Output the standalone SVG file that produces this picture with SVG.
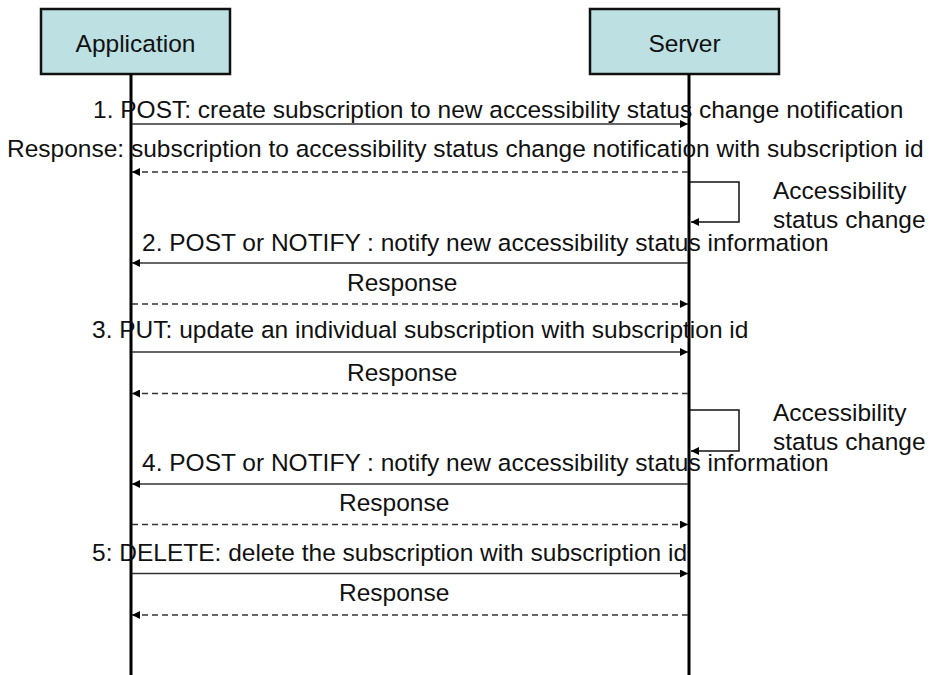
<svg xmlns="http://www.w3.org/2000/svg" width="929" height="675" viewBox="0 0 929 675">
<style>
text{font-family:"Liberation Sans",Arial,sans-serif;font-size:24.5px;fill:#111}
.box{fill:#bde0e3;stroke:#111;stroke-width:2.5}
.life{stroke:#000;stroke-width:3}
.msg{stroke:#333;stroke-width:1.5;fill:none}
.dash{stroke:#333;stroke-width:1.5;fill:none;stroke-dasharray:6 4}
.loop{stroke:#111;stroke-width:1.5;fill:none}
</style>
<defs>
<marker id="ah" viewBox="0 0 10 10" refX="10" refY="5" markerWidth="8" markerHeight="8" markerUnits="userSpaceOnUse" orient="auto">
<path d="M0,0 L10,5 L0,10 z" fill="#000"/>
</marker>
</defs>
<g id="application">
<rect class="box" x="41" y="9" width="189" height="65"/>
<line class="life" x1="131" y1="74" x2="131" y2="675"/>
<text x="135.5" y="52" text-anchor="middle">Application</text>
</g>
<g id="server">
<rect class="box" x="590" y="9" width="189" height="65"/>
<line class="life" x1="689" y1="74" x2="689" y2="675"/>
<text x="684.5" y="52" text-anchor="middle">Server</text>
</g>
<g id="connectors">
<line class="msg" x1="132" y1="124" x2="688" y2="124" marker-end="url(#ah)"/>
<line class="dash" x1="688" y1="172" x2="132" y2="172" marker-end="url(#ah)"/>
<polyline class="loop" points="690,182 739,182 739,222 691,222" marker-end="url(#ah)"/>
<line class="msg" x1="688" y1="263" x2="132" y2="263" marker-end="url(#ah)"/>
<line class="dash" x1="132" y1="304" x2="688" y2="304" marker-end="url(#ah)"/>
<line class="msg" x1="132" y1="352" x2="688" y2="352" marker-end="url(#ah)"/>
<line class="dash" x1="688" y1="393.5" x2="132" y2="393.5" marker-end="url(#ah)"/>
<polyline class="loop" points="690,410 739,410 739,451 691,451" marker-end="url(#ah)"/>
<line class="msg" x1="688" y1="484" x2="132" y2="484" marker-end="url(#ah)"/>
<line class="dash" x1="132" y1="524.5" x2="688" y2="524.5" marker-end="url(#ah)"/>
<line class="msg" x1="132" y1="573.5" x2="688" y2="573.5" marker-end="url(#ah)"/>
<line class="dash" x1="688" y1="615" x2="132" y2="615" marker-end="url(#ah)"/>
</g>
<g id="labels">
<text x="93" y="118">1. POST: create subscription to new accessibility status change notification</text>
<text x="7" y="157">Response: subscription to accessibility status change notification with subscription id</text>
<text x="773" y="199">Accessibility</text>
<text x="773" y="228">status change</text>
<text x="142" y="251">2. POST or NOTIFY : notify new accessibility status information</text>
<text x="347" y="291">Response</text>
<text x="92" y="338">3. PUT: update an individual subscription with subscription id</text>
<text x="347" y="381">Response</text>
<text x="773" y="421">Accessibility</text>
<text x="773" y="450">status change</text>
<text x="142" y="471">4. POST or NOTIFY : notify new accessibility status information</text>
<text x="339" y="511">Response</text>
<text x="92" y="561">5: DELETE: delete the subscription with subscription id</text>
<text x="339" y="601">Response</text>
</g>
</svg>
